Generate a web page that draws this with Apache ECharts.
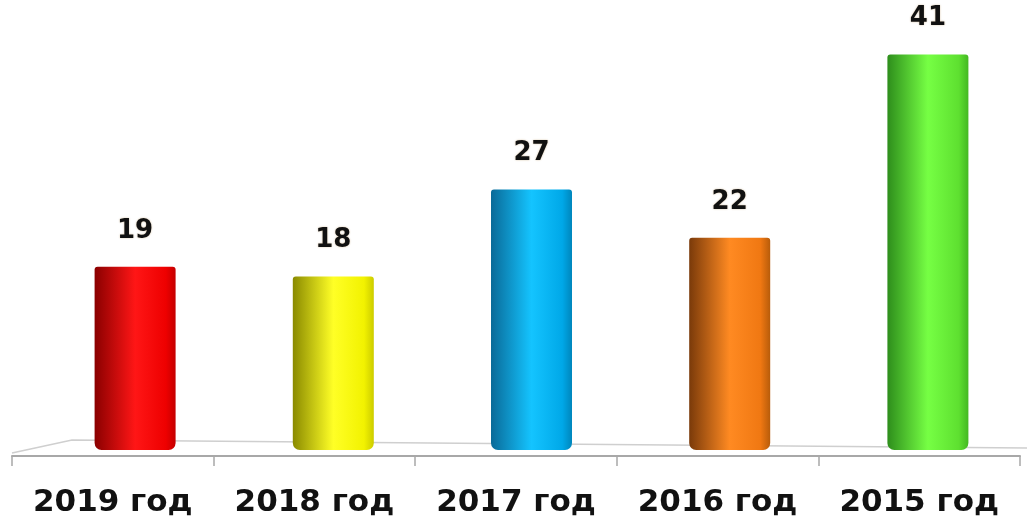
<!DOCTYPE html>
<html>
<head>
<meta charset="utf-8">
<script src="https://cdn.jsdelivr.net/npm/echarts@6/dist/echarts.min.js"></script>
<style>
  html, body { margin: 0; padding: 0; background: #fff; }
  #chart { width: 1027px; height: 524px; }
</style>
</head>
<body>
<div id="chart"></div>
<script>
// data
const years = ['2019 год', '2018 год', '2017 год', '2016 год', '2015 год'];
const counts = [19, 18, 27, 22, 41];
// cylinder shading: dark left edge, bright middle, right side, right rim
const barShades = [
  ['#8a0000', '#ff1616', '#ee0000', '#c40000'],
  ['#8a8a00', '#ffff26', '#f2f200', '#cccc00'],
  ['#0a6a98', '#14c4ff', '#00a8e8', '#0086bc'],
  ['#7a3a0a', '#ff8a22', '#f07812', '#b85c0a'],
  ['#2e8e1c', '#76ff44', '#5ee030', '#44b822'],
];

const chart = echarts.init(document.getElementById('chart'));

function cylinder(shade) {
  return new echarts.graphic.LinearGradient(0, 0, 1, 0, [
    { offset: 0, color: shade[0] },
    { offset: 0.5, color: shade[1] },
    { offset: 0.88, color: shade[2] },
    { offset: 1, color: shade[3] },
  ]);
}

const option = {
  animation: false,
  backgroundColor: '#ffffff',
  grid: [
    { left: 36, right: -4, top: 16, bottom: 74 },
    { left: 12, right: 7, top: 16, bottom: 68 },
  ],
  xAxis: [
    {
      gridIndex: 0,
      type: 'category',
      data: years,
      show: false,
    },
    {
      gridIndex: 1,
      type: 'category',
      data: years,
      axisLine: { show: true, lineStyle: { color: '#a8a8a8', width: 2 } },
      axisTick: { show: true, interval: 0, length: 10, lineStyle: { color: '#a8a8a8', width: 1.5 } },
      axisLabel: {
        interval: 0,
        hideOverlap: false,
        margin: 31,
        fontFamily: 'DejaVu Sans',
        fontWeight: 'bold',
        fontSize: 31,
        color: '#111111',
      },
    },
  ],
  yAxis: [
    { gridIndex: 0, type: 'value', min: 0, max: 45, show: false },
    { gridIndex: 1, type: 'value', min: 0, max: 45, show: false },
  ],
  graphic: [
    {
      type: 'polyline',
      shape: { points: [[12, 453], [72, 440], [1027, 448]] },
      style: { stroke: '#cfcfcf', lineWidth: 1.5, fill: null },
      silent: true,
    },
  ],
  series: [
    {
      type: 'bar',
      xAxisIndex: 0,
      yAxisIndex: 0,
      barWidth: 81,
      data: counts.map((v, i) => ({
        value: v,
        itemStyle: {
          color: cylinder(barShades[i]),
          borderRadius: [3, 3, 7, 7],
        },
      })),
      label: {
        show: true,
        position: 'top',
        distance: 23,
        fontFamily: 'DejaVu Sans',
        fontWeight: 'bold',
        fontSize: 26,
        color: '#111111',
        textShadowColor: 'rgba(160,110,40,0.45)',
        textShadowBlur: 2,
      },
    },
  ],
};

chart.setOption(option);
</script>
</body>
</html>
